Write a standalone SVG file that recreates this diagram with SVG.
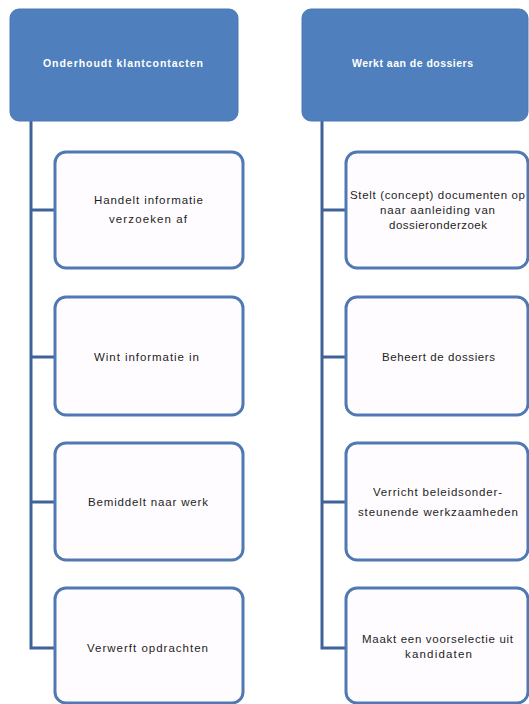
<svg xmlns="http://www.w3.org/2000/svg" width="529" height="704" viewBox="0 0 529 704">
<style>
.hdr{fill:#4f7fbd;stroke:#4a78b4;stroke-width:1}
.box{fill:#fefcff;stroke:#5079b3;stroke-width:3}
.conn{fill:none;stroke:#3f6399;stroke-width:3}
.ht{font-family:"Liberation Sans",Arial,sans-serif;font-size:10.5px;font-weight:bold;fill:#ffffff;text-anchor:middle}
.ct{font-family:"Liberation Sans",Arial,sans-serif;font-size:11.5px;fill:#1e1e1e;text-anchor:middle}
</style>
<rect x="0" y="0" width="529" height="704" fill="#ffffff"/>
<g id="connectors">
<polyline class="conn" points="31,121 31,648 55,648"/>
<line class="conn" x1="31" y1="210" x2="55" y2="210"/>
<line class="conn" x1="31" y1="357" x2="55" y2="357"/>
<line class="conn" x1="31" y1="502" x2="55" y2="502"/>
<polyline class="conn" points="322,121 322,648 346,648"/>
<line class="conn" x1="322" y1="210" x2="346" y2="210"/>
<line class="conn" x1="322" y1="357" x2="346" y2="357"/>
<line class="conn" x1="322" y1="502" x2="346" y2="502"/>
</g>
<g id="h1"><rect class="hdr" x="10" y="9" width="228" height="112" rx="9"/><text class="ht" x="123" y="67" textLength="160" lengthAdjust="spacing">Onderhoudt klantcontacten</text></g>
<g id="h2"><rect class="hdr" x="302" y="9" width="226" height="112" rx="9"/><text class="ht" x="412.5" y="67" textLength="121" lengthAdjust="spacing">Werkt aan de dossiers</text></g>
<g id="l1"><rect class="box" x="55" y="152" width="188" height="116" rx="11"/><text class="ct" x="148.5" y="204" textLength="109" lengthAdjust="spacing">Handelt informatie</text><text class="ct" x="148" y="223" textLength="78" lengthAdjust="spacing">verzoeken af</text></g>
<g id="l2"><rect class="box" x="55" y="297" width="188" height="118" rx="11"/><text class="ct" x="146.5" y="361" textLength="105" lengthAdjust="spacing">Wint informatie in</text></g>
<g id="l3"><rect class="box" x="55" y="443" width="188" height="117" rx="11"/><text class="ct" x="148" y="506" textLength="120" lengthAdjust="spacing">Bemiddelt naar werk</text></g>
<g id="l4"><rect class="box" x="55" y="588" width="188" height="115" rx="11"/><text class="ct" x="147.5" y="652" textLength="121" lengthAdjust="spacing">Verwerft opdrachten</text></g>
<g id="r1"><rect class="box" x="346" y="152" width="182" height="116" rx="11"/><text class="ct" x="437.5" y="199" textLength="175" lengthAdjust="spacing">Stelt (concept) documenten op</text><text class="ct" x="437.5" y="214" textLength="115" lengthAdjust="spacing">naar aanleiding van</text><text class="ct" x="438" y="229" textLength="98" lengthAdjust="spacing">dossieronderzoek</text></g>
<g id="r2"><rect class="box" x="346" y="297" width="182" height="118" rx="11"/><text class="ct" x="438.5" y="361" textLength="113" lengthAdjust="spacing">Beheert de dossiers</text></g>
<g id="r3"><rect class="box" x="346" y="443" width="182" height="117" rx="11"/><text class="ct" x="437.5" y="496" textLength="129" lengthAdjust="spacing">Verricht beleidsonder-</text><text class="ct" x="438" y="516" textLength="160" lengthAdjust="spacing">steunende werkzaamheden</text></g>
<g id="r4"><rect class="box" x="346" y="588" width="182" height="115" rx="11"/><text class="ct" x="437.5" y="643" textLength="151" lengthAdjust="spacing">Maakt een voorselectie uit</text><text class="ct" x="438.5" y="658" textLength="67" lengthAdjust="spacing">kandidaten</text></g>
</svg>
